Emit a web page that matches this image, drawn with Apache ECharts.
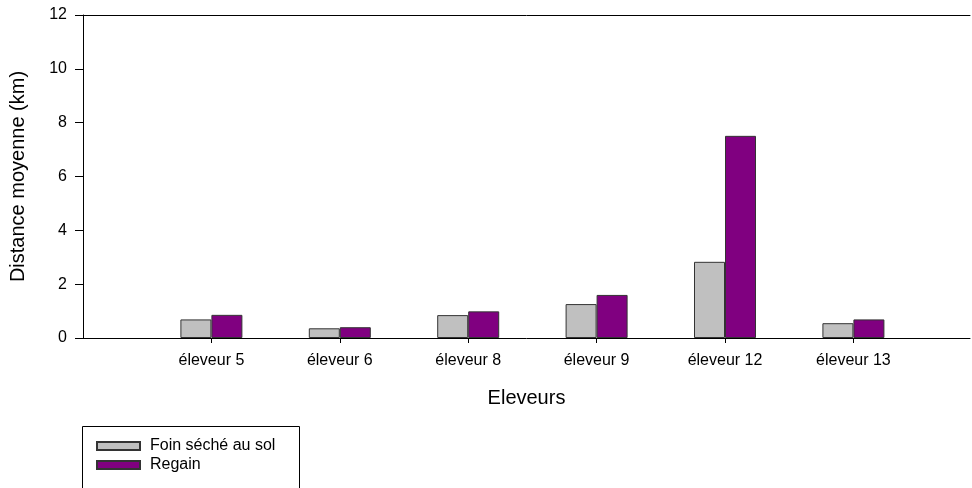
<!DOCTYPE html>
<html>
<head>
<meta charset="utf-8">
<script src="https://cdn.jsdelivr.net/npm/echarts@6/dist/echarts.min.js"></script>
<style>html,body{margin:0;padding:0;background:#fff}#c{width:972px;height:488px}</style>
</head>
<body>
<div id="c"></div>
<script>
const categories = ['éleveur 5', 'éleveur 6', 'éleveur 8', 'éleveur 9', 'éleveur 12', 'éleveur 13'];
const foinSeche = [0.69, 0.36, 0.85, 1.26, 2.83, 0.55];
const regain = [0.86, 0.40, 0.99, 1.60, 7.51, 0.69];
const yTicks = [0, 2, 4, 6, 8, 10, 12];

const positions = categories.map((c, i) => i + 1);
const font = 'Liberation Sans, Arial, sans-serif';
const chart = echarts.init(document.getElementById('c'));
chart.setOption({
  animation: false,
  textStyle: { fontFamily: font, color: '#000' },
  grid: { left: 83, right: 2, top: 15, bottom: 150, containLabel: false },
  graphic: [{
    type: 'rect', silent: true,
    shape: { x: 82.5, y: 426.5, width: 217, height: 80 },
    style: { fill: 'none', stroke: '#000', lineWidth: 1 }
  }],
  xAxis: [{
    type: 'value', min: 0, max: 6.908, interval: 1,
    name: 'Eleveurs', nameLocation: 'middle', nameGap: 50,
    nameTextStyle: { fontSize: 20, color: '#000', fontFamily: font },
    splitLine: { show: false },
    axisLine: { show: true, lineStyle: { color: '#000', width: 1 } },
    axisTick: { show: true, length: 5, lineStyle: { color: '#000' }, customValues: positions },
    axisLabel: { fontSize: 16, color: '#000', margin: 15, fontFamily: font, customValues: positions,
      formatter: v => categories[Math.round(v) - 1] || '' }
  }, {
    type: 'value', position: 'top', min: 0, max: 6.908,
    axisLine: { show: true, lineStyle: { color: '#000', width: 1 } },
    axisTick: { show: false }, axisLabel: { show: false }, splitLine: { show: false }
  }],
  yAxis: {
    type: 'value', min: yTicks[0], max: yTicks[yTicks.length - 1], interval: 2,
    name: 'Distance moyenne (km)', nameLocation: 'middle', nameGap: 55,
    nameTextStyle: { fontSize: 20, color: '#000', fontFamily: font },
    splitLine: { show: false },
    axisLine: { show: true, lineStyle: { color: '#000', width: 1 } },
    axisTick: { show: true, length: 8, lineStyle: { color: '#000' } },
    axisLabel: { fontSize: 16, color: '#000', margin: 16, fontFamily: font }
  },
  legend: {
    left: 96, top: 438, orient: 'vertical',
    itemWidth: 43, itemHeight: 8, itemGap: 3,
    padding: 0,
    icon: 'rect',
    textStyle: { fontSize: 16, lineHeight: 16, color: '#000', fontFamily: font, padding: [0, 0, 0, 5] },
    data: ['Foin séché au sol', 'Regain']
  },
  series: [{
    name: 'Foin séché au sol', type: 'bar', barWidth: 31, barGap: '0%',
    itemStyle: { color: '#C0C0C0', borderColor: '#333', borderWidth: 1 },
    data: positions.map((p, i) => [p, foinSeche[i]])
  }, {
    name: 'Regain', type: 'bar', barWidth: 31, barGap: '0%',
    itemStyle: { color: '#800080', borderColor: '#333', borderWidth: 1 },
    data: positions.map((p, i) => [p, regain[i]])
  }]
});
</script>
</body>
</html>
